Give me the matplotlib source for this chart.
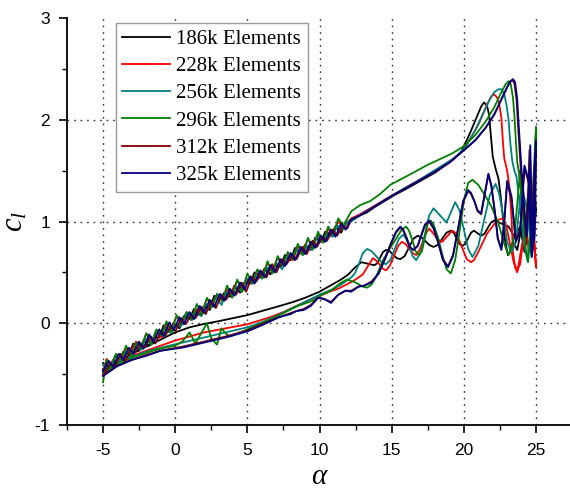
import matplotlib
matplotlib.use("Agg")
import matplotlib.pyplot as plt
from matplotlib.ticker import MultipleLocator

plt.rcParams['mathtext.fontset'] = 'custom'
plt.rcParams['mathtext.rm'] = 'Liberation Serif'
plt.rcParams['mathtext.it'] = 'Liberation Serif:italic'
plt.rcParams['axes.unicode_minus'] = False

labels = ["186k Elements", "228k Elements", "256k Elements",
          "296k Elements", "312k Elements", "325k Elements"]
colors = ["#000000", "#ff0000", "#008080", "#008000", "#800000", "#000080"]
grid_x = [-5, 0, 5, 10, 15, 20, 25]
grid_y = [0, 1, 2]

# upstroke angle grids (deg)
alpha_up_a = [-5, -4.6, -4.3, -3.9, -3.6, -3.2, -2.9, -2.5, -2.2, -1.8,
              -1.5, -1.1, -0.8, -0.4, -0.1, 0.3, 0.6, 1.0, 1.3, 1.7,
              2.0, 2.4, 2.7, 3.1, 3.4, 3.8, 4.1, 4.5, 4.8, 5.2,
              5.5, 5.9, 6.2, 6.6, 6.9, 7.3, 7.6, 8.0, 8.3, 8.7,
              9.0, 9.4, 9.7, 10.1, 10.4, 10.8, 11.1, 11.5, 11.8, 12.2]
alpha_up_b = [-5, -4.75, -4.45, -4.1, -3.75, -3.4, -3.05, -2.7, -2.35, -2.0,
              -1.65, -1.3, -0.95, -0.6, -0.25, 0.1, 0.45, 0.8, 1.15, 1.5,
              1.85, 2.2, 2.55, 2.9, 3.25, 3.6, 3.95, 4.3, 4.65, 5.0,
              5.35, 5.7, 6.05, 6.4, 6.75, 7.1, 7.45, 7.8, 8.15, 8.5,
              8.85, 9.2, 9.55, 9.9, 10.25, 10.6, 10.95, 11.3, 11.65, 12.2]
alpha_up_c = [-5, -4.48, -4.18, -3.78, -3.48, -3.08, -2.78, -2.38, -2.08, -1.68,
              -1.38, -0.98, -0.68, -0.28, 0.02, 0.42, 0.72, 1.12, 1.42, 1.82,
              2.12, 2.52, 2.82, 3.22, 3.52, 3.92, 4.22, 4.62, 4.92, 5.32,
              5.62, 6.02, 6.32, 6.72, 7.02, 7.42, 7.72, 8.12, 8.42, 8.82,
              9.12, 9.52, 9.82, 10.22, 10.52, 10.92, 11.22, 11.62, 11.92, 12.2]

cl_up_186 = [-0.39,-0.44,-0.36,-0.41,-0.28,-0.30,-0.20,-0.27,-0.17,-0.22,
             -0.14,-0.14,-0.02,-0.07,0.00,-0.05,0.07,0.04,0.14,0.08,
             0.17,0.13,0.27,0.23,0.30,0.26,0.37,0.30,0.40,0.39,
             0.50,0.46,0.54,0.48,0.57,0.55,0.67,0.62,0.74,0.69,
             0.77,0.72,0.84,0.80,0.90,0.87,0.95,0.89,0.99,1.01]
cl_up_228 = [-0.48,-0.35,-0.40,-0.32,-0.38,-0.25,-0.27,-0.18,-0.23,-0.10,
             -0.19,-0.09,-0.14,-0.01,-0.05,0.07,0.00,0.11,0.03,0.14,
             0.11,0.24,0.19,0.28,0.22,0.33,0.31,0.42,0.34,0.44,
             0.39,0.52,0.48,0.59,0.53,0.64,0.58,0.67,0.62,0.75,
             0.72,0.82,0.77,0.87,0.80,0.92,0.89,1.00,0.94,1.03]
cl_up_256 = [-0.41,-0.46,-0.32,-0.37,-0.28,-0.35,-0.24,-0.26,-0.15,-0.21,
             -0.09,-0.12,-0.06,-0.10,-0.01,-0.03,0.09,0.03,0.10,0.07,
             0.19,0.16,0.26,0.18,0.30,0.28,0.36,0.31,0.44,0.39,
             0.46,0.44,0.55,0.51,0.59,0.53,0.66,0.64,0.73,0.67,
             0.76,0.72,0.86,0.80,0.87,0.85,0.96,0.93,1.00,1.00]
cl_up_296 = [-0.58,-0.36,-0.45,-0.30,-0.36,-0.22,-0.32,-0.19,-0.24,-0.10,
             -0.21,-0.06,-0.12,0.02,-0.09,0.08,-0.01,0.11,0.04,0.19,
             0.08,0.25,0.16,0.29,0.22,0.37,0.25,0.43,0.31,0.49,
             0.39,0.53,0.44,0.61,0.49,0.66,0.57,0.70,0.63,0.78,
             0.67,0.84,0.73,0.90,0.79,0.95,0.87,1.03,0.96,1.10]
cl_up_312 = [-0.51,-0.40,-0.43,-0.30,-0.38,-0.27,-0.29,-0.21,-0.23,-0.13,
             -0.20,-0.08,-0.12,-0.03,-0.08,0.05,-0.01,0.08,0.05,0.16,
             0.09,0.22,0.15,0.28,0.23,0.32,0.28,0.40,0.31,0.46,
             0.41,0.50,0.45,0.58,0.50,0.63,0.58,0.67,0.63,0.75,
             0.68,0.81,0.75,0.85,0.81,0.92,0.86,0.96,0.93,1.02]
cl_up_325 = [-0.47,-0.37,-0.43,-0.30,-0.36,-0.24,-0.30,-0.18,-0.25,-0.11,
             -0.19,-0.06,-0.13,0.01,-0.07,0.06,-0.01,0.11,0.04,0.17,
             0.10,0.23,0.16,0.29,0.22,0.34,0.27,0.40,0.33,0.46,
             0.39,0.52,0.45,0.57,0.50,0.63,0.56,0.69,0.62,0.75,
             0.68,0.80,0.74,0.86,0.80,0.92,0.85,0.98,0.92,1.02]

# rest of each cycle as (alpha, cl): end of upstroke, stall, downstroke to -5
tail_186 = [(12.8,1.06),(13.3,1.09),(13.8,1.14),(14.5,1.20),(15.2,1.26),(16,1.32),(17,1.40),(18,1.48),(19,1.58),
    (19.8,1.68),(20.4,1.86),(20.9,2.03),(21.2,2.13),(21.4,2.17),(21.6,2.14),(21.75,2.05),(21.85,1.88),(22.0,1.64),
    (22.2,1.52),(22.4,1.42),(22.55,1.25),(22.7,1.05),(22.85,0.82),(23.05,0.67),(23.2,0.70),(23.4,0.80),(23.7,0.72),
    (24.0,0.95),(24.3,0.78),(24.5,1.25),(24.7,0.85),(24.9,1.40),(25.0,1.10),(24.8,0.80),(24.5,1.05),(24.2,0.70),
    (23.9,0.95),(23.5,0.85),(23.1,0.95),(22.6,0.98),(22.1,1.01),(21.88,0.99),(21.65,0.935),(21.43,0.88),(21.2,0.86),
    (20.95,0.885),(20.7,0.91),(20.5,0.89),(20.3,0.835),(20.1,0.78),(19.9,0.76),(19.7,0.78),(19.5,0.835),(19.3,0.89),
    (19.1,0.91),(18.8,0.89),(18.5,0.83),(18.2,0.77),(17.9,0.75),(17.6,0.77),(17.35,0.805),(17.1,0.84),(16.8,0.86),
    (16.5,0.83),(16.2,0.745),(15.9,0.66),(15.6,0.63),(15.35,0.64),(15.1,0.675),(14.85,0.71),(14.6,0.72),(14.4,0.70),
    (14.2,0.645),(14.0,0.59),(13.8,0.57),(13.35,0.585),(12.9,0.60),(12.4,0.54),(12.0,0.48),(11.5,0.43),(11.0,0.39),
    (10.5,0.35),(10.0,0.31),(9.0,0.25),(8.2,0.21),(7.0,0.16),(6.0,0.12),(5.0,0.08),(4.0,0.05),(3.0,0.02),(1.9,-0.01),
    (1.0,-0.04),(0.0,-0.09),(-1,-0.16),(-2,-0.23),(-3,-0.30),(-4,-0.37),(-5,-0.45)]

tail_228 = [(12.8,1.07),(13.4,1.12),(14.0,1.17),(14.7,1.23),(15.5,1.29),(16.3,1.36),(17.2,1.43),(18.2,1.51),(19.2,1.60),
    (20.0,1.71),(20.6,1.85),(21.1,1.98),(21.6,2.15),(21.9,2.23),(22.1,2.25),(22.3,2.22),(22.45,2.15),(22.6,2.02),
    (22.7,1.80),(22.8,1.62),(23.0,1.50),(23.15,1.35),(23.3,1.05),(23.4,0.70),(23.55,0.55),(23.7,0.50),(24.0,0.75),
    (24.3,0.95),(24.5,0.70),(24.7,1.15),(24.9,0.80),(25.0,0.55),(24.8,0.90),(24.5,1.20),(24.1,0.80),(23.9,0.58),
    (23.7,0.52),(23.45,0.60),(23.2,0.775),(22.95,0.95),(22.7,1.03),(22.45,1.02),(22.2,0.99),(21.6,0.88),(21.0,0.70),
    (20.7,0.62),(20.5,0.60),(20.2,0.63),(19.85,0.755),(19.5,0.88),(19.2,0.91),(18.85,0.855),(18.5,0.80),(18.2,0.82),
    (17.9,0.88),(17.6,0.93),(17.4,0.89),(17.15,0.80),(16.9,0.71),(16.7,0.67),(16.45,0.69),(16.2,0.735),(15.95,0.78),
    (15.7,0.80),(15.45,0.76),(15.15,0.66),(14.85,0.56),(14.6,0.52),(14.35,0.54),(14.15,0.58),(13.9,0.62),(13.7,0.64),
    (13.35,0.56),(13.0,0.48),(12.5,0.43),(12.0,0.39),(11.3,0.34),(10.7,0.31),(10.0,0.27),(9.3,0.23),(8.7,0.19),
    (7.5,0.11),(6.6,0.06),(5.0,-0.01),(3.5,-0.05),(2.0,-0.09),(0.5,-0.15),(0.0,-0.17),(-1,-0.22),(-2,-0.27),
    (-3,-0.32),(-4,-0.38),(-5,-0.47)]

tail_256 = [(12.8,1.06),(13.5,1.12),(14.2,1.18),(15.0,1.25),(15.8,1.32),(16.7,1.39),(17.6,1.47),(18.5,1.55),(19.4,1.63),
    (20.1,1.73),(20.8,1.90),(21.3,2.05),(21.8,2.20),(22.1,2.27),(22.4,2.30),(22.6,2.30),(22.8,2.25),(22.95,2.15),
    (23.1,2.00),(23.2,1.80),(23.35,1.60),(23.5,1.50),(23.65,1.44),(23.8,1.25),(24.0,1.00),(24.2,0.75),(24.4,0.62),
    (24.6,0.90),(24.8,1.30),(25.0,1.60),(24.9,1.00),(24.7,0.65),(24.4,1.10),(24.0,1.35),(23.6,0.80),(23.3,0.70),
    (23.0,0.80),(22.75,1.035),(22.45,1.27),(22.2,1.37),(21.8,1.26),(21.4,1.01),(21.0,0.76),(20.6,0.65),(20.3,0.73),
    (20.0,0.92),(19.7,1.11),(19.4,1.19),(19.1,1.09),(18.8,0.99),(18.35,1.06),(17.9,1.13),(17.6,1.06),(17.3,0.875),
    (17.0,0.69),(16.7,0.62),(16.45,0.66),(16.25,0.745),(16.0,0.83),(15.8,0.87),(15.5,0.83),(15.2,0.725),(14.9,0.62),
    (14.6,0.58),(14.3,0.60),(13.95,0.655),(13.6,0.71),(13.3,0.73),(13.0,0.69),(12.75,0.59),(12.45,0.49),(12.2,0.45),
    (11.5,0.38),(11.0,0.34),(10.0,0.28),(9.0,0.21),(8.0,0.14),(7.0,0.07),(6.0,0.01),(5.0,-0.04),(3.5,-0.09),
    (2.0,-0.14),(0.5,-0.19),(-1,-0.24),(-2,-0.28),(-3,-0.33),(-4,-0.39),(-5,-0.48)]

tail_296 = [(12.8,1.16),(13.5,1.20),(14.2,1.27),(14.9,1.36),(15.7,1.42),(16.5,1.48),(17.4,1.55),(18.3,1.61),(19.2,1.67),
    (20.0,1.74),(20.8,1.85),(21.5,1.98),(22.1,2.12),(22.6,2.27),(22.9,2.35),(23.1,2.38),(23.25,2.35),(23.4,2.22),
    (23.5,2.05),(23.6,1.80),(23.7,1.58),(23.85,1.45),(24.0,1.25),(24.15,0.98),(24.3,0.72),(24.45,0.60),(24.7,1.00),
    (24.85,1.50),(25.0,1.93),(24.8,0.80),(24.5,1.35),(24.2,0.90),(23.9,1.50),(23.5,0.85),(23.1,0.67),(22.8,0.78),
    (22.4,0.98),(21.9,1.15),(21.5,1.25),(21.0,1.36),(20.6,1.41),(20.3,1.38),(20.0,1.20),(19.7,0.90),(19.4,0.62),
    (19.1,0.49),(18.8,0.53),(18.5,0.68),(18.2,0.85),(17.9,0.97),(17.7,1.01),(17.5,0.98),(17.3,0.84),(17.1,0.71),
    (16.9,0.67),(16.65,0.71),(16.45,0.81),(16.2,0.91),(16.0,0.95),(15.7,0.92),(15.3,0.83),(14.9,0.74),(14.4,0.62),
    (13.9,0.45),(13.6,0.38),(13.3,0.35),(13.0,0.36),(12.5,0.40),(11.9,0.43),(11.4,0.39),(10.8,0.32),(10.3,0.29),
    (9.5,0.22),(8.5,0.17),(7.5,0.10),(6.5,0.03),(5.5,-0.03),(4.5,-0.09),(3.8,-0.13),(3.5,-0.10),(3.2,-0.05),
    (2.9,-0.21),(2.5,-0.15),(2.2,0.00),(1.8,-0.10),(1.4,-0.20),(1.0,-0.09),(0.5,-0.18),(0.0,-0.22),(-1,-0.25),
    (-2,-0.29),(-3,-0.34),(-4,-0.40),(-5,-0.50)]

tail_312 = [(12.8,1.06),(13.5,1.12),(14.3,1.19),(15.1,1.26),(16.0,1.33),(17.0,1.41),(18.0,1.49),(19.0,1.58),(20.0,1.70),
    (20.8,1.80),(21.5,1.92),(22.1,2.05),(22.6,2.20),(23.0,2.32),(23.2,2.37),(23.35,2.39),(23.5,2.36),(23.65,2.20),
    (23.75,1.95),(23.85,1.72),(23.95,1.50),(24.05,1.35),(24.15,1.10),(24.3,0.86),(24.45,1.28),(24.55,1.70),
    (24.65,1.18),(24.75,0.82),(24.85,1.45),(25.0,1.75),(24.9,0.88),(24.7,0.68),(24.5,1.38),(24.2,1.52),(23.9,0.92),
    (23.6,0.82),(23.3,1.22),(23.0,1.38),(22.8,1.00),(22.6,0.73),(22.35,0.84),(22.15,1.09),(21.9,1.35),(21.7,1.46),
    (21.45,1.27),(21.2,1.07),(20.95,1.10),(20.75,1.19),(20.5,1.27),(20.3,1.30),(19.95,1.19),(19.6,0.93),(19.25,0.67),
    (18.9,0.56),(18.55,0.63),(18.25,0.78),(17.9,0.93),(17.6,1.00),(17.3,0.96),(17.05,0.86),(16.8,0.76),(16.5,0.72),
    (16.25,0.75),(16.05,0.83),(15.8,0.91),(15.6,0.94),(15.3,0.89),(14.9,0.76),(14.5,0.62),(14.1,0.49),(13.6,0.41),
    (13.1,0.37),(12.7,0.36),(12.2,0.32),(11.8,0.32),(11.3,0.28),(10.8,0.21),(10.3,0.24),(9.9,0.25),(9.4,0.18),
    (8.9,0.14),(8.4,0.12),(8.0,0.10),(7.2,0.06),(6.0,-0.01),(5.0,-0.07),(3.5,-0.13),(2.0,-0.18),(0.5,-0.23),
    (-1,-0.27),(-2,-0.31),(-3,-0.36),(-4,-0.42),(-5,-0.51)]

tail_325 = [(12.8,1.06),(13.5,1.12),(14.3,1.19),(15.1,1.26),(16.0,1.33),(17.0,1.41),(18.0,1.49),(19.0,1.58),(20.0,1.70),
    (20.8,1.80),(21.5,1.92),(22.1,2.05),(22.6,2.20),(23.0,2.32),(23.25,2.38),(23.4,2.40),(23.55,2.37),(23.7,2.20),
    (23.8,1.95),(23.9,1.72),(24.0,1.50),(24.1,1.35),(24.2,1.10),(24.35,0.85),(24.5,1.30),(24.6,1.75),(24.7,1.20),
    (24.8,0.80),(24.9,1.50),(25.0,1.80),(24.9,0.85),(24.7,0.65),(24.5,1.40),(24.2,1.55),(23.9,0.90),(23.6,0.80),
    (23.3,1.25),(23.0,1.40),(22.8,1.00),(22.6,0.72),(22.35,0.83),(22.15,1.095),(21.9,1.36),(21.7,1.47),(21.45,1.275),
    (21.2,1.08),(20.95,1.11),(20.75,1.195),(20.5,1.28),(20.3,1.31),(19.95,1.20),(19.6,0.93),(19.25,0.66),(18.9,0.55),
    (18.55,0.62),(18.25,0.78),(17.9,0.94),(17.6,1.01),(17.3,0.97),(17.05,0.865),(16.8,0.76),(16.5,0.72),(16.25,0.75),
    (16.05,0.835),(15.8,0.92),(15.6,0.95),(15.3,0.90),(14.9,0.77),(14.5,0.62),(14.1,0.49),(13.6,0.40),(13.1,0.37),
    (12.7,0.36),(12.2,0.31),(11.8,0.32),(11.3,0.28),(10.8,0.20),(10.3,0.24),(9.9,0.25),(9.4,0.17),(8.9,0.13),
    (8.4,0.12),(8.0,0.09),(7.2,0.06),(6.0,-0.02),(5.0,-0.08),(3.5,-0.14),(2.0,-0.19),(0.5,-0.24),(-1,-0.27),
    (-2,-0.32),(-3,-0.36),(-4,-0.42),(-5,-0.52)]

alpha_up = [alpha_up_a, alpha_up_b, alpha_up_c, alpha_up_b, alpha_up_c, alpha_up_a]
cl_up = [cl_up_186, cl_up_228, cl_up_256, cl_up_296, cl_up_312, cl_up_325]
tails = [tail_186, tail_228, tail_256, tail_296, tail_312, tail_325]

fig = plt.figure(figsize=(5.70, 4.93), dpi=100)
ax = fig.add_axes([66.9 / 570, 1 - 425 / 493, 505.2 / 570, 407 / 493])

for gx in grid_x:
    ax.axvline(gx, linestyle=(0, (1.2, 3.5)), color='#333333', lw=1.0, zorder=0.5)
for gy in grid_y:
    ax.axhline(gy, linestyle=(0, (1.2, 3.5)), color='#333333', lw=1.0, zorder=0.5)

for lab, col, au, cu, tl in zip(labels, colors, alpha_up, cl_up, tails):
    at = [p[0] for p in tl]
    ct = [p[1] for p in tl]
    ax.plot(au + at, cu + ct, color=col, lw=1.3, label=lab, solid_joinstyle='round')

ax.set_xlim(-7.5, 27.5)
ax.set_ylim(-1, 3)
ax.xaxis.set_major_locator(MultipleLocator(5))
ax.xaxis.set_minor_locator(MultipleLocator(2.5))
ax.yaxis.set_major_locator(MultipleLocator(1))
ax.yaxis.set_minor_locator(MultipleLocator(0.5))
ax.set_xticks([-5, 0, 5, 10, 15, 20, 25])
for s in ['top', 'right']:
    ax.spines[s].set_visible(False)
for s in ['left', 'bottom']:
    ax.spines[s].set_linewidth(1.3)
ax.tick_params(which='major', direction='out', length=6, width=1.2, labelsize=12.5)
ax.tick_params(axis='x', which='major', pad=7)
ax.tick_params(axis='y', which='major', pad=6)
ax.tick_params(which='minor', direction='out', length=3.5, width=1.0)
for t in ax.get_xticklabels() + ax.get_yticklabels():
    t.set_fontfamily('Liberation Sans')

ax.set_ylabel(r'$c_l$', fontsize=22)
ax.yaxis.set_label_coords(-0.075, 0.5)
ax.set_xlabel(r'$\alpha$', fontsize=21, labelpad=3)

leg = ax.legend(loc='upper left', bbox_to_anchor=(116 / 570, 1 - 23 / 493),
                bbox_transform=fig.transFigure, borderaxespad=0,
                prop={'family': 'Liberation Serif', 'size': 15},
                handlelength=2.3, handletextpad=0.3, labelspacing=0.37,
                borderpad=0.3, fancybox=False, framealpha=1, edgecolor='#999999')
leg.get_frame().set_linewidth(1.0)

fig.savefig('out.png', dpi=100)
